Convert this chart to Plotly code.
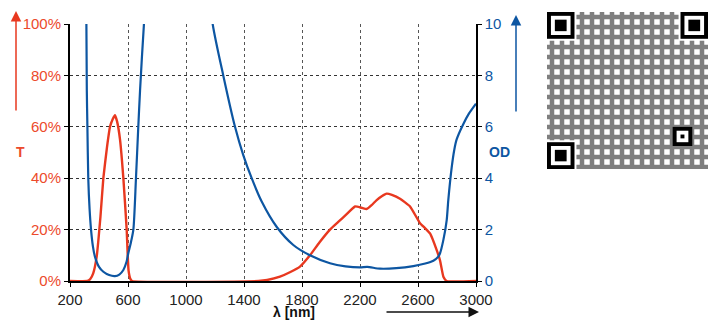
import plotly.graph_objects as go

# transmission curve (T, %)
t_wavelength = [200, 320, 340, 360, 384, 410, 430, 455, 476, 495, 510, 525, 545, 568, 591, 598, 604, 615, 628,
                1500, 1560, 1648, 1720, 1786, 1855, 1920, 1993, 2050, 2108, 2166, 2210, 2246, 2280, 2315,
                2350, 2384, 2420, 2476, 2545, 2614, 2650, 2683, 2729, 2752, 2775, 2798, 3000]
t_percent = [0, 0, 0.8, 3, 9.5, 25, 40, 52, 60, 63, 64.5, 62, 55, 40, 20, 10, 4, 1, 0,
             0, 0.4, 1.7, 3.5, 5.6, 10, 15, 20, 23, 26, 29, 28.5, 28, 29.5, 31.5,
             33, 34, 33.5, 32, 29, 22.5, 20.5, 18.5, 12, 8, 1.7, 0, 0]

# optical density curve (OD)
od_wavelength = [313, 316, 320, 326, 335, 345, 358, 372, 400, 430, 470, 510, 540, 568, 590, 602, 620, 637,
                 655, 671, 683, 710, 740, 1150, 1184, 1257, 1338, 1395, 1453, 1522, 1626, 1740, 1855,
                 1993, 2100, 2200, 2250, 2338, 2450, 2568, 2650, 2706, 2740, 2752, 2775, 2798, 2809,
                 2832, 2850, 2866, 2912, 2950, 3000]
od_values = [10, 7.4, 6.0, 4.0, 2.8, 2.0, 1.35, 0.95, 0.55, 0.36, 0.23, 0.19, 0.25, 0.43, 0.75, 1.08, 1.5, 2.0,
             4.0, 6.0, 7.4, 10, 12, 12, 10, 8, 6, 4.9, 4.0, 3.09, 2.1, 1.4, 1.0,
             0.69, 0.57, 0.53, 0.55, 0.48, 0.5, 0.58, 0.68, 0.79, 0.95, 1.08, 1.6, 2.37, 3.15,
             4.4, 5.1, 5.5, 6.1, 6.5, 6.9]

x_ticks = [200, 600, 1000, 1400, 1800, 2200, 2600, 3000]
t_ticks = [0, 20, 40, 60, 80, 100]
t_ticktext = [f"{v}%" for v in t_ticks]
od_ticks = [0, 2, 4, 6, 8, 10]

# QR decoration: finder pattern corners (module units, 41x41 grid)
qr_size = 41
qr_finders = [(0, 34), (34, 34), (0, 0)]
qr_align = (32, 6)

RED = "#e8381f"
RED_TXT = "#ec4a2c"
BLUE = "#0d56a2"
FONT = "Liberation Sans, Arial, sans-serif"

W, H = 710, 322
ML, MR, MT, MB = 70, 0, 10, 41
PW, PH = W - ML - MR, H - MT - MB


def px(x):
    return (x - ML) / PW


def py(y):
    return (H - MB - y) / PH


fig = go.Figure()

fig.add_trace(go.Scatter(x=t_wavelength, y=t_percent, mode="lines",
                         line=dict(color=RED, width=2.4, shape="spline", smoothing=0.4),
                         yaxis="y", xaxis="x"))
fig.add_trace(go.Scatter(x=od_wavelength, y=od_values, mode="lines",
                         line=dict(color=BLUE, width=2.2, shape="spline", smoothing=0.7),
                         yaxis="y3", xaxis="x"))

# QR-like block
fig.add_trace(go.Scatter(x=[0, qr_size, qr_size, 0, 0], y=[0, 0, qr_size, qr_size, 0],
                         mode="lines", line=dict(width=0), fill="toself", fillcolor="white",
                         fillpattern=dict(shape="+", fgcolor="black", bgcolor="white",
                                          size=10, solidity=0.7),
                         xaxis="x2", yaxis="y2", hoverinfo="skip"))

shapes = []
for fx, fy in qr_finders:
    for off, size, col in [(-0.5, 8, "white"), (0, 7, "black"), (1, 5, "white"), (2, 3, "black")]:
        shapes.append(dict(type="rect", xref="x2", yref="y2", x0=fx + off, y0=fy + off,
                           x1=fx + off + size, y1=fy + off + size, fillcolor=col, line=dict(width=0),
                           layer="above"))
ax_, ay_ = qr_align
for off, size, col in [(0, 5, "black"), (1, 3, "white"), (2, 1, "black")]:
    shapes.append(dict(type="rect", xref="x2", yref="y2", x0=ax_ + off, y0=ay_ + off,
                       x1=ax_ + off + size, y1=ay_ + off + size, fillcolor=col, line=dict(width=0),
                       layer="above"))

annotations = [
    dict(text="<b>T</b>", x=px(14), y=py(152), xref="paper", yref="paper", showarrow=False,
         font=dict(size=14, color=RED_TXT, family=FONT)),
    dict(text="<b>OD</b>", x=px(512), y=py(152), xref="paper", yref="paper", showarrow=False,
         font=dict(size=14, color=BLUE, family=FONT)),
    dict(text="", x=px(16), y=py(11), xref="paper", yref="paper", showarrow=True,
         ax=0, ay=101, arrowhead=2, arrowsize=1.4, arrowwidth=1.5, arrowcolor=RED),
    dict(text="", x=px(516), y=py(15), xref="paper", yref="paper", showarrow=True,
         ax=0, ay=98, arrowhead=2, arrowsize=1.4, arrowwidth=1.5, arrowcolor=BLUE),
    dict(text="", x=px(479), y=py(312), xref="paper", yref="paper", showarrow=True,
         ax=-94, ay=0, arrowhead=2, arrowsize=1.4, arrowwidth=1.5, arrowcolor="#111"),
    dict(text="<b>λ [nm]</b>", x=px(272), y=py(321), xref="paper", yref="paper", showarrow=False,
         font=dict(size=14, color="#111", family=FONT), borderpad=0),
]

x_dom = [0, (476 - ML) / PW]
y_dom = [0, 257 / PH]

fig.update_layout(
    width=W, height=H, autosize=False,
    margin=dict(l=ML, r=MR, t=MT, b=MB, autoexpand=False),
    plot_bgcolor="white", paper_bgcolor="white",
    showlegend=False,
    font=dict(family=FONT, size=15, color="#222"),
    xaxis=dict(domain=x_dom, range=[200, 3000], tickvals=x_ticks, showgrid=True,
               gridcolor="#555", griddash="dot", gridwidth=1, zeroline=False, automargin=False,
               showline=True, linecolor="black", linewidth=2, ticks="outside", ticklen=4,
               tickcolor="black", tickfont=dict(size=15, color="#222")),
    yaxis=dict(domain=y_dom, range=[0, 100], tickvals=t_ticks, ticktext=t_ticktext, showgrid=True,
               gridcolor="#333", griddash="dot", gridwidth=1, zeroline=False, automargin=False,
               showline=True, linecolor="black", linewidth=2, ticks="outside", ticklen=4,
               tickcolor="black", tickfont=dict(size=15, color=RED_TXT)),
    yaxis3=dict(domain=y_dom, range=[0, 10], tickvals=od_ticks, overlaying="y", side="right",
                anchor="x", showgrid=False, zeroline=False, showline=True, linecolor="black",
                linewidth=1.5, ticks="outside", ticklen=4, tickcolor="black", automargin=False,
                tickfont=dict(size=15, color=BLUE)),
    xaxis2=dict(domain=[px(547), (708 - ML) / PW], range=[0, qr_size], visible=False,
                anchor="y2", automargin=False),
    yaxis2=dict(domain=[py(169), py(12)], range=[0, qr_size], visible=False, anchor="x2",
                automargin=False),
    shapes=shapes,
    annotations=annotations,
)

# drop the page's default body margin so the figure sits at the window's corner
fig.write_html("out.html", config={"displayModeBar": False},
               post_script="document.body.style.margin='0';")
